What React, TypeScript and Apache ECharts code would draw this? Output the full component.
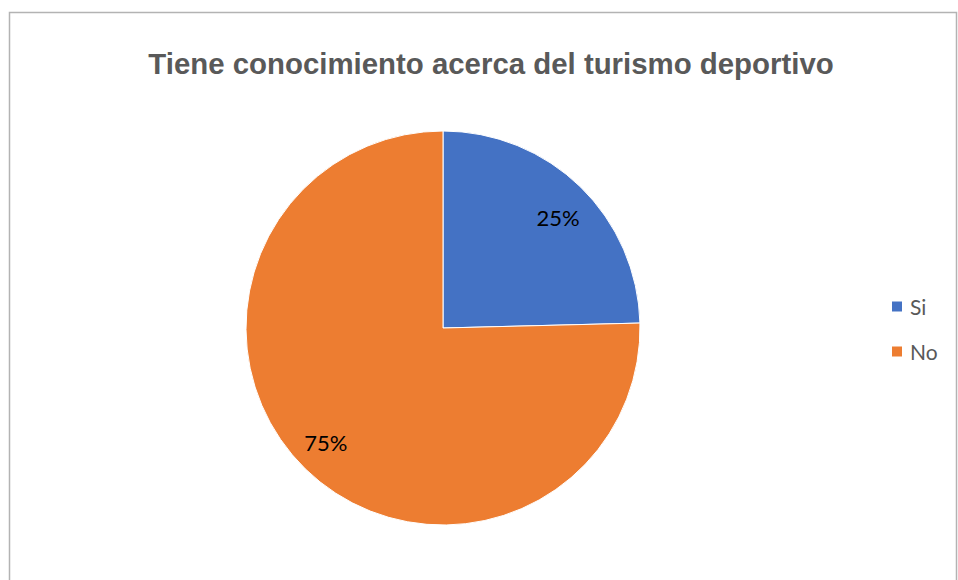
import React, { useEffect, useRef } from "react";
import * as echarts from "echarts";

const categories = ["Si", "No"];
const values = [24.6, 75.4];
const colors = ["#4472C4", "#ED7D31"];
const titleText = "Tiene conocimiento acerca del turismo deportivo";

export default function App() {
  const ref = useRef<HTMLDivElement>(null);
  useEffect(() => {
    if (!ref.current) return;
    const chart = echarts.init(ref.current, null, { renderer: "svg" });
    const data = categories.map((name, i) => ({
      name,
      value: values[i],
      itemStyle: { color: colors[i] },
    }));
    chart.setOption({
      animation: false,
      backgroundColor: "#ffffff",
      title: {
        text: titleText,
        left: 486,
        top: 44,
        textAlign: "center",
        textStyle: {
          fontFamily: "Liberation Sans, Arial, sans-serif",
          fontWeight: "bold",
          fontSize: 29.4,
          color: "#595959",
        },
      },
      legend: {
        orient: "vertical",
        left: 890,
        top: 296,
        padding: 0,
        itemWidth: 12,
        itemHeight: 12,
        itemGap: 24,
        icon: "rect",
        data: categories,
        textStyle: {
          fontFamily: "Lato, sans-serif",
          fontSize: 21,
          color: "#595959",
          padding: [0, 0, 0, 2],
        },
      },
      graphic: [
        {
          type: "rect",
          shape: { x: 9.5, y: 12.5, width: 947, height: 600 },
          style: { fill: "none", stroke: "#b3b3b3", lineWidth: 1.5 },
          silent: true,
        },
      ],
      series: [
        {
          type: "pie",
          center: [443, 328],
          radius: 197,
          startAngle: 90,
          clockwise: true,
          data,
          label: { show: false },
          labelLine: { show: false },
          itemStyle: { borderColor: "#ffffff", borderWidth: 1 },
          emphasis: { disabled: true },
        },
        {
          type: "pie",
          center: [442, 330],
          radius: 318,
          startAngle: 88.5,
          clockwise: true,
          silent: true,
          data: categories.map((name, i) => ({ name, value: values[i] })),
          itemStyle: { color: "rgba(0,0,0,0)" },
          label: {
            show: true,
            position: "inside",
            formatter: (p: any) => Math.round(p.percent) + "%",
            fontFamily: "Lato, sans-serif",
            fontSize: 22,
            color: "#000000",
          },
          labelLine: { show: false },
          emphasis: { disabled: true },
        },
      ],
    });
    return () => chart.dispose();
  }, []);
  return (
    <div
      ref={ref}
      style={{ position: "fixed", left: 0, top: 0, width: 958, height: 580 }}
    />
  );
}
